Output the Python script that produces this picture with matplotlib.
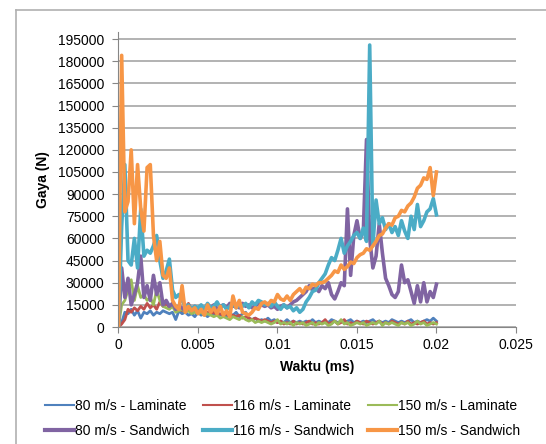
import numpy as np
import matplotlib
matplotlib.use('Agg')
import matplotlib.pyplot as plt
from matplotlib.lines import Line2D

plt.rcParams['font.family'] = ['Liberation Sans', 'DejaVu Sans']

# time axis (ms), sampled every 0.0002
waktu = np.linspace(0, 0.02, 101)

# force in kN, one list per test
lam_80 = [0, 3, 10, 9, 12, 8, 11, 6, 10, 9, 11, 8, 10, 9, 11, 10, 9, 10, 5, 11,
          9, 10, 8, 9, 7, 10, 8, 9, 7, 9, 8, 10, 8, 9, 7, 9, 8, 10, 7, 9,
          10, 6, 5, 6, 4, 5, 4, 6, 4, 5, 3, 4, 3, 5, 3, 4, 3, 4, 3, 4,
          3, 5, 3, 4, 3, 4, 3, 5, 4, 3, 4, 3, 4, 5, 3, 4, 3, 4, 3, 4,
          5, 3, 4, 3, 4, 3, 5, 4, 3, 4, 3, 4, 5, 3, 4, 3, 4, 5, 4, 6, 4]
lam_116 = [0, 2, 5, 12, 10, 13, 11, 14, 12, 16, 13, 15, 12, 17, 14, 16, 13, 15, 12, 14,
           11, 13, 16, 12, 11, 10, 11, 9, 10, 9, 10, 8, 9, 8, 9, 7, 8, 7, 8, 6,
           7, 6, 5, 6, 5, 4, 5, 4, 3, 4, 3, 4, 2, 3, 2, 4, 2, 3, 2, 3,
           4, 2, 3, 2, 3, 5, 2, 3, 4, 2, 3, 5, 2, 3, 2, 4, 3, 2, 4, 3,
           2, 3, 4, 2, 3, 2, 4, 3, 2, 3, 2, 4, 2, 3, 2, 3, 4, 2, 3, 2, 3]
lam_150 = [0, 15, 18, 25, 32, 18, 28, 20, 22, 18, 20, 15, 25, 18, 14, 13, 12, 14, 10, 11,
           12, 10, 11, 9, 10, 9, 10, 8, 9, 8, 7, 8, 6, 7, 6, 5, 7, 6, 5, 7,
           5, 4, 5, 3, 4, 3, 4, 3, 2, 3, 5, 2, 3, 2, 3, 1, 3, 2, 3, 1,
           2, 3, 1, 3, 2, 3, 1, 2, 4, 2, 5, 2, 3, 1, 2, 3, 2, 3, 1, 2,
           3, 2, 4, 1, 3, 2, 3, 2, 1, 3, 2, 3, 1, 2, 4, 2, 3, 1, 2, 3, 2]
sw_80 = [0, 40, 20, 33, 15, 22, 30, 48, 20, 28, 18, 35, 22, 30, 15, 18, 14, 16, 12, 14,
         13, 11, 13, 12, 14, 11, 13, 12, 14, 13, 15, 12, 14, 15, 13, 16, 14, 15, 13, 16,
         14, 15, 13, 14, 16, 15, 14, 15, 13, 14, 12, 14, 15, 13, 15, 17, 18, 20, 22, 24,
         28, 25, 27, 24, 28, 26, 30, 22, 19, 24, 30, 28, 80, 35, 62, 72, 60, 65, 127, 60,
         40, 48, 70, 50, 33, 28, 22, 20, 24, 42, 30, 32, 24, 16, 28, 17, 30, 17, 24, 20, 29]
sw_116 = [0, 68, 110, 45, 42, 60, 40, 80, 48, 52, 50, 55, 62, 45, 33, 38, 46, 25, 20, 22,
          18, 14, 15, 12, 14, 13, 15, 12, 16, 13, 14, 17, 13, 15, 12, 14, 16, 13, 15, 14,
          16, 13, 17, 15, 18, 17, 15, 16, 14, 17, 14, 12, 15, 13, 14, 11, 13, 10, 12, 17,
          20, 24, 25, 30, 33, 36, 42, 47, 45, 52, 60, 50, 55, 58, 62, 64, 60, 67, 58, 191,
          55, 86, 70, 74, 66, 70, 64, 68, 62, 72, 65, 60, 75, 66, 83, 68, 72, 78, 80, 87, 76]
sw_150 = [0, 184, 78, 85, 120, 70, 110, 80, 65, 108, 110, 62, 45, 58, 35, 33, 40, 18, 14, 12,
          28, 10, 14, 11, 13, 9, 12, 8, 15, 10, 13, 9, 14, 8, 11, 7, 21, 13, 18, 10,
          9, 8, 10, 13, 12, 16, 17, 15, 18, 17, 22, 19, 18, 21, 18, 22, 24, 26, 23, 27,
          26, 29, 28, 30, 30, 31, 33, 35, 38, 37, 42, 39, 41, 44, 43, 47, 49, 50, 53, 52,
          55, 58, 62, 63, 67, 70, 69, 74, 75, 79, 78, 82, 84, 88, 94, 96, 101, 100, 108, 89, 105]

series = [
    ('80 m/s - Laminate', lam_80, '#4F81BD', 2.0),
    ('116 m/s - Laminate', lam_116, '#C0504D', 2.0),
    ('150 m/s - Laminate', lam_150, '#9BBB59', 2.0),
    ('80 m/s - Sandwich', sw_80, '#8064A2', 2.6),
    ('116 m/s - Sandwich', sw_116, '#4BACC6', 2.6),
    ('150 m/s - Sandwich', sw_150, '#F79646', 2.6),
]

fig = plt.figure(figsize=(5.46, 4.44), dpi=100)
ax = fig.add_axes([0.217, 0.2635, 0.728, 0.665])

lines = {}
for name, vals, col, lw in series:
    l, = ax.plot(waktu, np.array(vals) * 1000, color=col, lw=lw,
                 solid_joinstyle='round')
    lines[name] = l

ax.set_xlim(0, 0.025)
ax.set_ylim(0, 200000)
ax.set_yticks(np.arange(0, 195001, 15000))
ax.set_xticks([0, 0.005, 0.01, 0.015, 0.02, 0.025])
ax.set_xticklabels(['0', '0.005', '0.01', '0.015', '0.02', '0.025'])
ax.yaxis.grid(True, color='#a6a6a6', lw=1.2)
ax.set_axisbelow(True)
for s in ['top', 'right']:
    ax.spines[s].set_visible(False)
for s in ['left', 'bottom']:
    ax.spines[s].set_color('#868686')
ax.tick_params(axis='both', colors='#868686', length=4, labelsize=10,
               labelcolor='black')
ax.tick_params(axis='y', pad=6)
ax.tick_params(axis='x', pad=4)

ax.set_xlabel('Waktu (ms)', fontsize=10, fontweight='bold', labelpad=6)
ax.set_ylabel('Gaya (N)', fontsize=10, fontweight='bold', labelpad=6)

# legend: laminate on the first row, sandwich on the second
order = ['80 m/s - Laminate', '80 m/s - Sandwich',
         '116 m/s - Laminate', '116 m/s - Sandwich',
         '150 m/s - Laminate', '150 m/s - Sandwich']
handles = []
for n in order:
    l = lines[n]
    handles.append(Line2D([], [], color=l.get_color(),
                          lw=1.5 if 'Laminate' in n else 3))
fig.legend(handles, order, loc='center', bbox_to_anchor=(0.517, 0.058),
           ncol=3, frameon=False, fontsize=10, handlelength=2.1,
           handletextpad=0.05, columnspacing=1.0, labelspacing=0.8)

# chart border
fig.add_artist(Line2D([15.5 / 546, 15.5 / 546], [0, 1 - 10 / 444],
                      transform=fig.transFigure, color='#b0b0b0', lw=1.2))
fig.add_artist(Line2D([15.5 / 546, 1], [1 - 10 / 444, 1 - 10 / 444],
                      transform=fig.transFigure, color='#b0b0b0', lw=1.2))

fig.savefig('out.png', dpi=100)
